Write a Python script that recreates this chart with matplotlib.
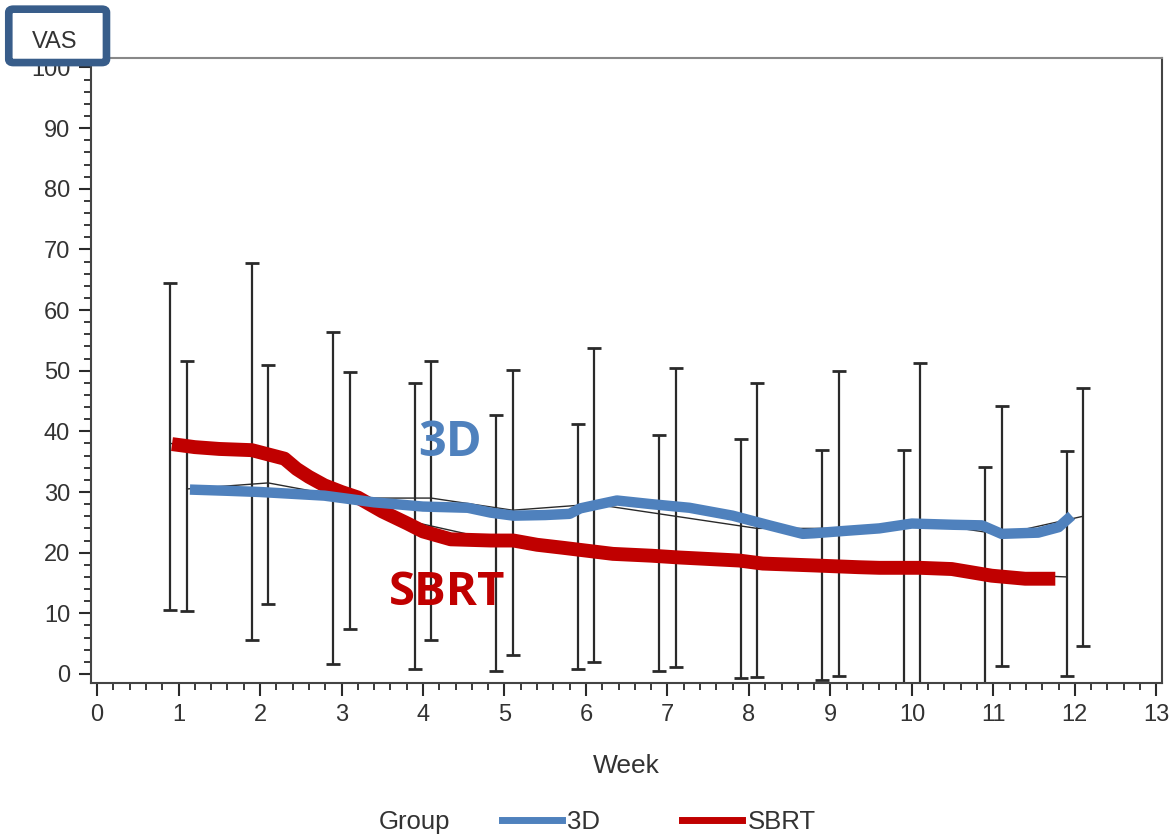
import numpy as np
import matplotlib.pyplot as plt
from matplotlib.patches import FancyBboxPatch
from matplotlib.lines import Line2D
from matplotlib.ticker import MultipleLocator

# DATA ---------------------------------------------------------------

weeks = np.arange(1, 13)

# mean VAS per week (thin black connecting lines)
sbrt_mean = [38.0, 37.0, 31.0, 25.0, 22.0, 21.0, 19.5, 18.5, 18.0, 17.5, 16.5, 16.0]
d3_mean = [30.5, 31.5, 29.0, 29.0, 27.0, 28.0, 26.0, 24.0, 24.0, 25.0, 23.0, 26.0]

# error bar ends
sbrt_upper = [64.5, 67.8, 56.4, 48.0, 42.7, 41.2, 39.4, 38.8, 37.0, 37.0, 34.2, 36.7]
sbrt_lower = [10.6, 5.6, 1.6, 0.8, 0.5, 0.8, 0.5, -0.7, -1.0, -3.0, -3.0, -0.3]
d3_upper = [51.6, 51.0, 49.8, 51.6, 50.2, 53.8, 50.5, 48.0, 49.9, 51.3, 44.2, 47.2]
d3_lower = [10.3, 11.6, 7.4, 5.6, 3.1, 2.0, 1.2, -0.5, -0.3, -1.8, 1.3, 4.6]

# hand-drawn highlight traces over the means
sbrt_trace_x = [0.92, 1.2, 1.5, 1.9, 2.1, 2.3, 2.45, 2.6, 2.79, 3.0, 3.2, 3.5, 3.81, 4.0,
                4.34, 4.83, 5.11, 5.4, 5.72, 6.33, 6.8, 7.15, 7.88, 8.17, 8.78, 9.35,
                9.6, 10.1, 10.49, 10.98, 11.39, 11.76]
sbrt_trace_y = [37.9, 37.4, 37.1, 36.9, 36.2, 35.5, 33.8, 32.5, 31.1, 30.0, 29.1, 26.8, 24.8, 23.5,
                22.2, 22.0, 22.0, 21.3, 20.8, 19.8, 19.5, 19.2, 18.7, 18.2, 17.9, 17.6,
                17.5, 17.5, 17.3, 16.2, 15.7, 15.7]
d3_trace_x = [1.14, 1.6, 2.0, 2.79, 3.4, 4.0, 4.55, 4.83, 5.11, 5.5, 5.8, 5.93, 6.1, 6.38,
              6.8, 7.27, 7.8, 8.25, 8.66, 8.8, 9.19, 9.6, 10.0, 10.5, 10.86, 11.1, 11.55,
              11.8, 11.96]
d3_trace_y = [30.4, 30.2, 30.0, 29.4, 28.3, 27.6, 27.4, 26.6, 26.1, 26.2, 26.4, 27.3, 27.8, 28.6,
              28.0, 27.4, 26.1, 24.5, 23.1, 23.2, 23.6, 24.0, 24.8, 24.6, 24.5, 23.1, 23.3,
              24.2, 26.1]

x_ticks = list(range(0, 14))
y_ticks = list(range(0, 101, 10))

# PLOTTING -----------------------------------------------------------

plt.rcParams['font.family'] = ['Liberation Sans', 'DejaVu Sans']

blue = '#4f81bd'
red = '#c00000'
ink = '#2a2a2a'

fig = plt.figure(figsize=(11.7, 8.34), dpi=100)
ax = fig.add_axes([0.0778, 0.181, 0.9154, 0.749])

sbrt_x = weeks - 0.1
d3_x = weeks + 0.1

for xs, m, lo, hi in [(sbrt_x, sbrt_mean, sbrt_lower, sbrt_upper),
                      (d3_x, d3_mean, d3_lower, d3_upper)]:
    m = np.array(m)
    ax.errorbar(xs, m, yerr=[m - np.array(lo), np.array(hi) - m], fmt='none',
                ecolor=ink, elinewidth=1.6, capsize=5, capthick=2.0, zorder=2)
    ax.plot(xs, m, color=ink, lw=1.0, zorder=2)

ax.plot(d3_trace_x, d3_trace_y, color=blue, lw=7.5, solid_joinstyle='round',
        solid_capstyle='butt', zorder=4)
ax.plot(sbrt_trace_x, sbrt_trace_y, color=red, lw=10, solid_joinstyle='round',
        solid_capstyle='butt', zorder=3)

ax.text(4.33, 38.0, '3D', color=blue, fontsize=35, fontweight='bold',
        family=['Open Sans', 'DejaVu Sans'], ha='center', va='center', zorder=5)
ax.text(4.3, 13.4, 'SBRT', color=red, fontsize=34, fontweight='bold',
        family=['Open Sans', 'DejaVu Sans'], ha='center', va='center', zorder=5)

ax.set_xlim(-0.074, 13.07)
ax.set_ylim(-1.5, 101.5)
ax.set_xticks(x_ticks)
ax.set_yticks(y_ticks)
ax.xaxis.set_minor_locator(MultipleLocator(0.2))
ax.yaxis.set_minor_locator(MultipleLocator(2))
ax.tick_params(which='major', length=9, width=1.5, color=ink, labelsize=17,
               labelcolor='#333333', pad=6)
ax.tick_params(which='minor', length=5, width=1.3, color=ink)
for s in ax.spines.values():
    s.set_color('#444444')
    s.set_linewidth(1.5)
ax.spines['top'].set_color('#888888')

ax.set_xlabel('Week', fontsize=19, color='#333333', labelpad=20)

# legend row
fig.text(0.3547, 0.0144, 'Group', fontsize=18.5, color='#333333', ha='center', va='center')
handles = [Line2D([], [], color=blue, lw=5), Line2D([], [], color=red, lw=5)]
fig.legend(handles, ['3D', 'SBRT'], loc='center left', bbox_to_anchor=(0.409, 0.0144),
           ncol=2, frameon=False, fontsize=18.5, handlelength=2.33, handletextpad=0.23,
           columnspacing=3.19, labelcolor='#333333')

# VAS box
box = FancyBboxPatch((0.0095, 0.927), 0.0795, 0.06, boxstyle='round,pad=0.002,rounding_size=0.004',
                     transform=fig.transFigure, facecolor='white', edgecolor='#385d8a',
                     linewidth=5.5, zorder=10)
fig.patches.append(box)
fig.text(0.047, 0.950, 'VAS', fontsize=17, color='#333333', ha='center', va='center', zorder=11)

fig.savefig('out.png', dpi=100)
